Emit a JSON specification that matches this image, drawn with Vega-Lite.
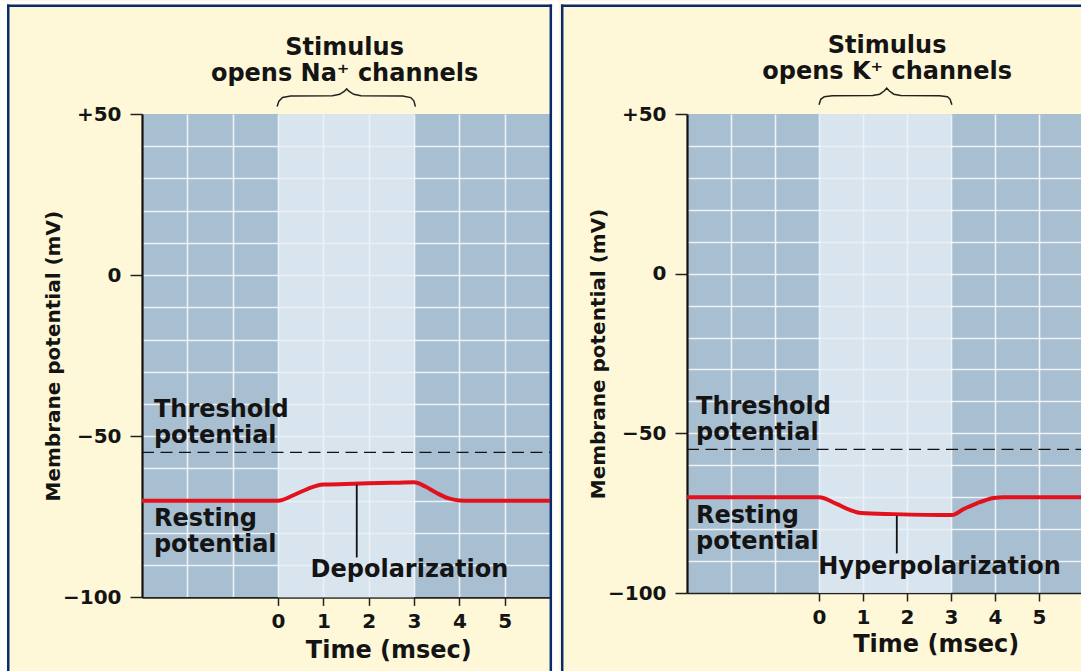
{
  "$schema": "https://vega.github.io/schema/vega-lite/v6.json",
  "padding": 0,
  "background": "#fef8d8",
  "spacing": 0,
  "config": {"view": {"stroke": null}, "axis": {"labelOverlap": false}},
  "datasets": {
    "curve1": [
      {"t": -3, "v": -70}, {"t": 0, "v": -70}, {"t": 0.34, "v": -68.3}, {"t": 0.66, "v": -66.3},
      {"t": 1.0, "v": -65.0}, {"t": 1.5, "v": -64.8}, {"t": 2.0, "v": -64.6}, {"t": 2.5, "v": -64.45},
      {"t": 3.0, "v": -64.3}, {"t": 3.25, "v": -65.6}, {"t": 3.5, "v": -67.6}, {"t": 3.75, "v": -69.2},
      {"t": 4.0, "v": -69.9}, {"t": 4.2, "v": -70}, {"t": 6, "v": -70}
    ],
    "curve2": [
      {"t": -3, "v": -70}, {"t": 0, "v": -70}, {"t": 0.4, "v": -72.1}, {"t": 0.7, "v": -74.0},
      {"t": 0.95, "v": -74.95}, {"t": 1.7, "v": -75.3}, {"t": 3.02, "v": -75.6}, {"t": 3.29, "v": -73.7},
      {"t": 3.59, "v": -71.9}, {"t": 3.97, "v": -70.25}, {"t": 4.2, "v": -70}, {"t": 6, "v": -70}
    ],
    "brace1": [
      {"t": -0.02, "v": 52.3}, {"t": 0.02, "v": 54.0}, {"t": 0.1, "v": 55.1}, {"t": 0.28, "v": 55.6},
      {"t": 1.2, "v": 55.7}, {"t": 1.36, "v": 56.1}, {"t": 1.46, "v": 57.0}, {"t": 1.516, "v": 57.8},
      {"t": 1.57, "v": 57.0}, {"t": 1.67, "v": 56.1}, {"t": 1.83, "v": 55.7}, {"t": 2.75, "v": 55.6},
      {"t": 2.93, "v": 55.1}, {"t": 3.0, "v": 54.0}, {"t": 3.03, "v": 52.3}
    ],
    "brace2": [
      {"t": 0.0, "v": 52.9}, {"t": 0.04, "v": 54.6}, {"t": 0.12, "v": 55.4}, {"t": 0.3, "v": 55.7},
      {"t": 1.22, "v": 55.8}, {"t": 1.38, "v": 56.2}, {"t": 1.48, "v": 57.2}, {"t": 1.54, "v": 58.1},
      {"t": 1.6, "v": 57.2}, {"t": 1.7, "v": 56.2}, {"t": 1.86, "v": 55.8}, {"t": 2.74, "v": 55.7},
      {"t": 2.92, "v": 55.4}, {"t": 2.98, "v": 54.6}, {"t": 3.02, "v": 52.9}
    ],
    "left1": [
      {"t": -2.737, "v": -43.9, "label": "Threshold\npotential"},
      {"t": -2.737, "v": -77.75, "label": "Resting\npotential"}
    ],
    "center1": [
      {"t": 1.47, "v": 68.4, "label": "Stimulus\nopens Na⁺ channels"},
      {"t": 2.9, "v": -93.8, "label": "Depolarization"},
      {"t": 2.444, "v": -118.7, "label": "Time (msec)"}
    ],
    "left2": [
      {"t": -2.795, "v": -43.8, "label": "Threshold\npotential"},
      {"t": -2.795, "v": -78.2, "label": "Resting\npotential"}
    ],
    "center2": [
      {"t": 1.548, "v": 68.98, "label": "Stimulus\nopens K⁺ channels"},
      {"t": 2.739, "v": -94.0, "label": "Hyperpolarization"},
      {"t": 2.664, "v": -118.6, "label": "Time (msec)"}
    ]
  },
  "hconcat": [
    {
      "width": 408,
      "height": 483.4,
      "view": {"fill": "#a8bfd2", "stroke": null},
      "resolve": {"axis": {"y": "independent"}},
      "layer": [
        {
          "data": {"values": [{}]},
          "mark": {"type": "rect", "fill": "#e8f0f7", "opacity": 0.75},
          "encoding": {
            "x": {"datum": 0, "type": "quantitative", "scale": {"domain": [-3, 6], "nice": false, "zero": false},
              "axis": {
                "values": [-3, -2, -1, 0, 1, 2, 3, 4, 5, 6],
                "title": null,
                "grid": true, "gridColor": "#ffffff", "gridWidth": 1.6,
                "gridOpacity": {"condition": {"test": "datum.value <= -3 || datum.value >= 6", "value": 0}, "value": 0.8},
                "ticks": true, "tickSize": 8, "tickWidth": 1.5, "tickColor": "#222222",
                "tickOpacity": {"condition": {"test": "datum.value < 0 || datum.value > 5", "value": 0}, "value": 1},
                "labelExpr": "datum.value >= 0 && datum.value <= 5 ? datum.label : ''",
                "labelFont": "DejaVu Sans", "labelFontWeight": "bold", "labelFontSize": 20, "labelColor": "#141414",
                "labelPadding": 6, "labelFlush": false, "labelOverlap": false,
                "domain": true, "domainColor": "#222222", "domainWidth": 1.6
              }},
            "x2": {"datum": 3},
            "y": {"datum": -100, "type": "quantitative", "scale": {"domain": [-100, 50], "nice": false, "zero": false},
              "axis": {
                "orient": "left",
                "values": [-90, -80, -70, -60, -50, -40, -30, -20, -10, 0, 10, 20, 30, 40],
                "title": null, "labels": false, "ticks": false, "domain": false,
                "grid": true, "gridColor": "#ffffff", "gridWidth": 1.6, "gridOpacity": 0.8
              }},
            "y2": {"datum": 50}
          }
        },
        {
          "data": {"values": [{}]},
          "mark": {"type": "rect", "fill": "#ffffff"},
          "encoding": {
            "x": {"datum": -6.126, "type": "quantitative", "scale": {"domain": [-3, 6], "nice": false, "zero": false}},
            "x2": {"datum": -5.977},
            "y": {"datum": 85.16, "type": "quantitative", "scale": {"domain": [-100, 50], "nice": false, "zero": false},
              "axis": {
                "orient": "left",
                "values": [-100, -50, 0, 50],
                "title": "Membrane potential (mV)",
                "titleFont": "DejaVu Sans", "titleFontWeight": "bold", "titleFontSize": 20, "titleColor": "#141414",
                "titleAngle": 270, "titleX": -83, "titleY": 241.7, "titleAlign": "center", "titleBaseline": "alphabetic",
                "grid": false,
                "ticks": true, "tickSize": 12, "tickWidth": 1.5, "tickColor": "#222222",
                "labelExpr": "datum.value > 0 ? '+' + datum.label : datum.label",
                "labelFont": "DejaVu Sans", "labelFontWeight": "bold", "labelFontSize": 20, "labelColor": "#141414",
                "labelPadding": 9, "labelFlush": false, "labelOverlap": false,
                "domain": true, "domainColor": "#111111", "domainWidth": 2.2
              }},
            "y2": {"datum": -123.05}
          }
        },
        {
          "data": {"values": [{}]},
          "mark": {"type": "rect", "fill": "#ffffff"},
          "encoding": {
            "x": {"datum": -6.126, "type": "quantitative", "scale": {"domain": [-3, 6], "nice": false, "zero": false}},
            "x2": {"datum": 6.19},
            "y": {"datum": 85.16, "type": "quantitative", "scale": {"domain": [-100, 50], "nice": false, "zero": false}, "axis": null},
            "y2": {"datum": 83.99}
          }
        },
        {
          "data": {"values": [{}]},
          "mark": {"type": "rect", "fill": "#ffffff"},
          "encoding": {
            "x": {"datum": 6.046, "type": "quantitative", "scale": {"domain": [-3, 6], "nice": false, "zero": false}},
            "x2": {"datum": 6.19},
            "y": {"datum": 85.16, "type": "quantitative", "scale": {"domain": [-100, 50], "nice": false, "zero": false}, "axis": null},
            "y2": {"datum": -123.05}
          }
        },
        {
          "data": {"values": [{}]},
          "mark": {"type": "rule", "color": "#0b2a6b", "strokeWidth": 2.5},
          "encoding": {
            "x": {"datum": -5.95, "type": "quantitative", "scale": {"domain": [-3, 6], "nice": false, "zero": false}},
            "y": {"datum": 83.99, "type": "quantitative", "scale": {"domain": [-100, 50], "nice": false, "zero": false}, "axis": null},
            "y2": {"datum": -123.05}
          }
        },
        {
          "data": {"values": [{}]},
          "mark": {"type": "rule", "color": "#0b2a6b", "strokeWidth": 2.5},
          "encoding": {
            "x": {"datum": 6.018, "type": "quantitative", "scale": {"domain": [-3, 6], "nice": false, "zero": false}},
            "y": {"datum": 83.99, "type": "quantitative", "scale": {"domain": [-100, 50], "nice": false, "zero": false}, "axis": null},
            "y2": {"datum": -123.05}
          }
        },
        {
          "data": {"values": [{}]},
          "mark": {"type": "rule", "color": "#0b2a6b", "strokeWidth": 2.5},
          "encoding": {
            "x": {"datum": -5.977, "type": "quantitative", "scale": {"domain": [-3, 6], "nice": false, "zero": false}},
            "x2": {"datum": 6.046},
            "y": {"datum": 83.6, "type": "quantitative", "scale": {"domain": [-100, 50], "nice": false, "zero": false}, "axis": null}
          }
        },
        {
          "data": {"values": [{}]},
          "mark": {"type": "rule", "color": "#111111", "strokeWidth": 1.3, "strokeDash": [12, 6.5]},
          "encoding": {
            "x": {"datum": -3, "type": "quantitative", "scale": {"domain": [-3, 6], "nice": false, "zero": false}},
            "x2": {"datum": 6},
            "y": {"datum": -55, "type": "quantitative", "scale": {"domain": [-100, 50], "nice": false, "zero": false}, "axis": null}
          }
        },
        {
          "data": {"name": "curve1"},
          "mark": {"type": "line", "color": "#e3111b", "strokeWidth": 4, "interpolate": "monotone"},
          "encoding": {
            "x": {"field": "t", "type": "quantitative", "scale": {"domain": [-3, 6], "nice": false, "zero": false}},
            "y": {"field": "v", "type": "quantitative", "scale": {"domain": [-100, 50], "nice": false, "zero": false}, "axis": null}
          }
        },
        {
          "data": {"values": [{}]},
          "mark": {"type": "rule", "color": "#111111", "strokeWidth": 1.8},
          "encoding": {
            "x": {"datum": 1.737, "type": "quantitative", "scale": {"domain": [-3, 6], "nice": false, "zero": false}},
            "y": {"datum": -65.0, "type": "quantitative", "scale": {"domain": [-100, 50], "nice": false, "zero": false}, "axis": null},
            "y2": {"datum": -87.6}
          }
        },
        {
          "data": {"name": "brace1"},
          "mark": {"type": "line", "color": "#222222", "strokeWidth": 1.5},
          "encoding": {
            "x": {"field": "t", "type": "quantitative", "scale": {"domain": [-3, 6], "nice": false, "zero": false}},
            "y": {"field": "v", "type": "quantitative", "scale": {"domain": [-100, 50], "nice": false, "zero": false}, "axis": null}
          }
        },
        {
          "data": {"name": "left1"},
          "mark": {"type": "text", "align": "left", "baseline": "alphabetic", "font": "DejaVu Sans", "fontWeight": "bold", "fontSize": 24, "lineBreak": "\n", "lineHeight": 26, "color": "#141414"},
          "encoding": {
            "x": {"field": "t", "type": "quantitative", "scale": {"domain": [-3, 6], "nice": false, "zero": false}},
            "y": {"field": "v", "type": "quantitative", "scale": {"domain": [-100, 50], "nice": false, "zero": false}, "axis": null},
            "text": {"field": "label"}
          }
        },
        {
          "data": {"name": "center1"},
          "mark": {"type": "text", "align": "center", "baseline": "alphabetic", "font": "DejaVu Sans", "fontWeight": "bold", "fontSize": 24, "lineBreak": "\n", "lineHeight": 26, "color": "#141414"},
          "encoding": {
            "x": {"field": "t", "type": "quantitative", "scale": {"domain": [-3, 6], "nice": false, "zero": false}},
            "y": {"field": "v", "type": "quantitative", "scale": {"domain": [-100, 50], "nice": false, "zero": false}, "axis": null},
            "text": {"field": "label"}
          }
        }
      ]
    },
    {
      "width": 396,
      "height": 479,
      "view": {"fill": "#a8bfd2", "stroke": null},
      "resolve": {"axis": {"y": "independent"}},
      "layer": [
        {
          "data": {"values": [{}]},
          "mark": {"type": "rect", "fill": "#e8f0f7", "opacity": 0.75},
          "encoding": {
            "x": {"datum": 0, "type": "quantitative", "scale": {"domain": [-3, 6], "nice": false, "zero": false},
              "axis": {
                "values": [-3, -2, -1, 0, 1, 2, 3, 4, 5, 6],
                "title": null,
                "grid": true, "gridColor": "#ffffff", "gridWidth": 1.6,
                "gridOpacity": {"condition": {"test": "datum.value <= -3 || datum.value >= 6", "value": 0}, "value": 0.8},
                "ticks": true, "tickSize": 8, "tickWidth": 1.5, "tickColor": "#222222",
                "tickOpacity": {"condition": {"test": "datum.value < 0 || datum.value > 5", "value": 0}, "value": 1},
                "labelExpr": "datum.value >= 0 && datum.value <= 5 ? datum.label : ''",
                "labelFont": "DejaVu Sans", "labelFontWeight": "bold", "labelFontSize": 20, "labelColor": "#141414",
                "labelPadding": 6, "labelFlush": false, "labelOverlap": false,
                "domain": true, "domainColor": "#222222", "domainWidth": 1.6
              }},
            "x2": {"datum": 3},
            "y": {"datum": -100, "type": "quantitative", "scale": {"domain": [-100, 50], "nice": false, "zero": false},
              "axis": {
                "orient": "left",
                "values": [-90, -80, -70, -60, -50, -40, -30, -20, -10, 0, 10, 20, 30, 40],
                "title": null, "labels": false, "ticks": false, "domain": false,
                "grid": true, "gridColor": "#ffffff", "gridWidth": 1.6, "gridOpacity": 0.8
              }},
            "y2": {"datum": 50}
          }
        },
        {
          "data": {"values": [{}]},
          "mark": {"type": "rect", "fill": "#ffffff"},
          "encoding": {
            "x": {"datum": -5.865, "type": "quantitative", "scale": {"domain": [-3, 6], "nice": false, "zero": false}},
            "x2": {"datum": 6.0},
            "y": {"datum": 85.48, "type": "quantitative", "scale": {"domain": [-100, 50], "nice": false, "zero": false},
              "axis": {
                "orient": "left",
                "values": [-100, -50, 0, 50],
                "title": "Membrane potential (mV)",
                "titleFont": "DejaVu Sans", "titleFontWeight": "bold", "titleFontSize": 20, "titleColor": "#141414",
                "titleAngle": 270, "titleX": -83, "titleY": 239.5, "titleAlign": "center", "titleBaseline": "alphabetic",
                "grid": false,
                "ticks": true, "tickSize": 12, "tickWidth": 1.5, "tickColor": "#222222",
                "labelExpr": "datum.value > 0 ? '+' + datum.label : datum.label",
                "labelFont": "DejaVu Sans", "labelFontWeight": "bold", "labelFontSize": 20, "labelColor": "#141414",
                "labelPadding": 9, "labelFlush": false, "labelOverlap": false,
                "domain": true, "domainColor": "#111111", "domainWidth": 2.2
              }},
            "y2": {"datum": 84.31}
          }
        },
        {
          "data": {"values": [{}]},
          "mark": {"type": "rule", "color": "#0b2a6b", "strokeWidth": 2.5},
          "encoding": {
            "x": {"datum": -5.836, "type": "quantitative", "scale": {"domain": [-3, 6], "nice": false, "zero": false}},
            "y": {"datum": 84.31, "type": "quantitative", "scale": {"domain": [-100, 50], "nice": false, "zero": false}, "axis": null},
            "y2": {"datum": -124.65}
          }
        },
        {
          "data": {"values": [{}]},
          "mark": {"type": "rule", "color": "#0b2a6b", "strokeWidth": 2.5},
          "encoding": {
            "x": {"datum": -5.865, "type": "quantitative", "scale": {"domain": [-3, 6], "nice": false, "zero": false}},
            "x2": {"datum": 6.0},
            "y": {"datum": 83.92, "type": "quantitative", "scale": {"domain": [-100, 50], "nice": false, "zero": false}, "axis": null}
          }
        },
        {
          "data": {"values": [{}]},
          "mark": {"type": "rule", "color": "#111111", "strokeWidth": 1.3, "strokeDash": [12, 6.5]},
          "encoding": {
            "x": {"datum": -3, "type": "quantitative", "scale": {"domain": [-3, 6], "nice": false, "zero": false}},
            "x2": {"datum": 6},
            "y": {"datum": -55, "type": "quantitative", "scale": {"domain": [-100, 50], "nice": false, "zero": false}, "axis": null}
          }
        },
        {
          "data": {"name": "curve2"},
          "mark": {"type": "line", "color": "#e3111b", "strokeWidth": 4, "interpolate": "monotone"},
          "encoding": {
            "x": {"field": "t", "type": "quantitative", "scale": {"domain": [-3, 6], "nice": false, "zero": false}},
            "y": {"field": "v", "type": "quantitative", "scale": {"domain": [-100, 50], "nice": false, "zero": false}, "axis": null}
          }
        },
        {
          "data": {"values": [{}]},
          "mark": {"type": "rule", "color": "#111111", "strokeWidth": 1.8},
          "encoding": {
            "x": {"datum": 1.768, "type": "quantitative", "scale": {"domain": [-3, 6], "nice": false, "zero": false}},
            "y": {"datum": -75.8, "type": "quantitative", "scale": {"domain": [-100, 50], "nice": false, "zero": false}, "axis": null},
            "y2": {"datum": -87.6}
          }
        },
        {
          "data": {"name": "brace2"},
          "mark": {"type": "line", "color": "#222222", "strokeWidth": 1.5},
          "encoding": {
            "x": {"field": "t", "type": "quantitative", "scale": {"domain": [-3, 6], "nice": false, "zero": false}},
            "y": {"field": "v", "type": "quantitative", "scale": {"domain": [-100, 50], "nice": false, "zero": false}, "axis": null}
          }
        },
        {
          "data": {"name": "left2"},
          "mark": {"type": "text", "align": "left", "baseline": "alphabetic", "font": "DejaVu Sans", "fontWeight": "bold", "fontSize": 24, "lineBreak": "\n", "lineHeight": 26, "color": "#141414"},
          "encoding": {
            "x": {"field": "t", "type": "quantitative", "scale": {"domain": [-3, 6], "nice": false, "zero": false}},
            "y": {"field": "v", "type": "quantitative", "scale": {"domain": [-100, 50], "nice": false, "zero": false}, "axis": null},
            "text": {"field": "label"}
          }
        },
        {
          "data": {"name": "center2"},
          "mark": {"type": "text", "align": "center", "baseline": "alphabetic", "font": "DejaVu Sans", "fontWeight": "bold", "fontSize": 24, "lineBreak": "\n", "lineHeight": 26, "color": "#141414"},
          "encoding": {
            "x": {"field": "t", "type": "quantitative", "scale": {"domain": [-3, 6], "nice": false, "zero": false}},
            "y": {"field": "v", "type": "quantitative", "scale": {"domain": [-100, 50], "nice": false, "zero": false}, "axis": null},
            "text": {"field": "label"}
          }
        }
      ]
    }
  ]
}
